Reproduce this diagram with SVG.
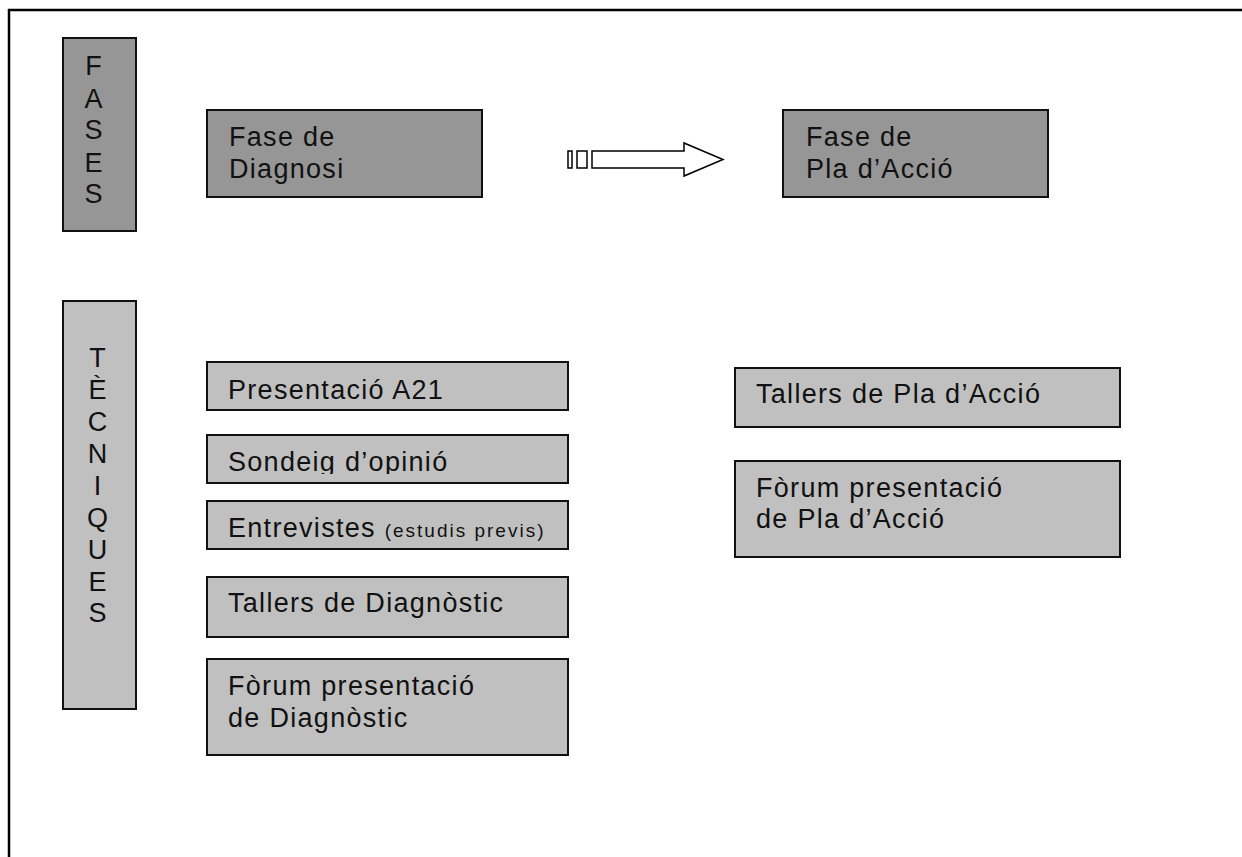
<svg xmlns="http://www.w3.org/2000/svg" width="1242" height="857" viewBox="0 0 1242 857">
<style>
.dark{fill:#969696;stroke:#111;stroke-width:2}
.light{fill:#c0c0c0;stroke:#111;stroke-width:2}
.t{font-family:"Liberation Sans",Arial,sans-serif;font-size:27px;fill:#111;letter-spacing:1.3px}
.v{font-family:"Liberation Sans",Arial,sans-serif;font-size:27px;fill:#111;text-anchor:middle}
.s{font-size:19px;letter-spacing:2px}
</style>
<defs>
<clipPath id="clipSond"><rect x="200" y="430" width="380" height="44"/></clipPath>
<clipPath id="clipEntr"><rect x="200" y="495" width="380" height="46"/></clipPath>
</defs>
<rect width="1242" height="857" fill="#fff"/>
<g id="frame">
<line x1="8" y1="10" x2="1242" y2="10" stroke="#000" stroke-width="2.5"/>
<line x1="9" y1="9" x2="9" y2="857" stroke="#000" stroke-width="2.5"/>
</g>
<g id="fases">
<rect class="dark" x="63" y="38" width="73" height="193"/>
<text class="v" x="93.5" y="75">F</text>
<text class="v" x="93.5" y="108">A</text>
<text class="v" x="93.5" y="139">S</text>
<text class="v" x="93.5" y="172">E</text>
<text class="v" x="93.5" y="203">S</text>
</g>
<g id="fase-diagnosi">
<rect class="dark" x="207" y="110" width="275" height="87"/>
<text class="t" x="229" y="146">Fase de</text>
<text class="t" x="229" y="178">Diagnosi</text>
</g>
<g id="fase-pla">
<rect class="dark" x="783" y="110" width="265" height="87"/>
<text class="t" x="806" y="146">Fase de</text>
<text class="t" x="806" y="178">Pla d’Acció</text>
</g>
<g id="connectors">
<rect x="568" y="151" width="4" height="17" fill="#fff" stroke="#000" stroke-width="1.5"/>
<rect x="577" y="151" width="10" height="17" fill="#fff" stroke="#000" stroke-width="1.5"/>
<path d="M592,151 L684,151 L684,143 L723,159.5 L684,176 L684,168 L592,168 Z" fill="#fff" stroke="#000" stroke-width="1.5"/>
</g>
<g id="tecniques">
<rect class="light" x="63" y="301" width="73" height="408"/>
<text class="v" x="97.5" y="367">T</text>
<text class="v" x="97.5" y="399">È</text>
<text class="v" x="97.5" y="431">C</text>
<text class="v" x="97.5" y="463">N</text>
<text class="v" x="97.5" y="495">I</text>
<text class="v" x="97.5" y="527">Q</text>
<text class="v" x="97.5" y="559">U</text>
<text class="v" x="97.5" y="591">E</text>
<text class="v" x="97.5" y="622">S</text>
</g>
<g id="presentacio">
<rect class="light" x="207" y="362" width="361" height="48"/>
<text class="t" x="228" y="399">Presentació A21</text>
</g>
<g id="sondeig">
<rect class="light" x="207" y="435" width="361" height="48"/>
<text class="t" x="228" y="471" clip-path="url(#clipSond)">Sondeig d’opinió</text>
</g>
<g id="entrevistes">
<rect class="light" x="207" y="501" width="361" height="48"/>
<text class="t" x="228" y="537" clip-path="url(#clipEntr)">Entrevistes <tspan class="s">(estudis previs)</tspan></text>
</g>
<g id="tallers-diagnostic">
<rect class="light" x="207" y="577" width="361" height="60"/>
<text class="t" x="228" y="612">Tallers de Diagnòstic</text>
</g>
<g id="forum-diagnostic">
<rect class="light" x="207" y="659" width="361" height="96"/>
<text class="t" x="228" y="695">Fòrum presentació</text>
<text class="t" x="228" y="727">de Diagnòstic</text>
</g>
<g id="tallers-pla">
<rect class="light" x="735" y="368" width="385" height="59"/>
<text class="t" x="756" y="403">Tallers de Pla d’Acció</text>
</g>
<g id="forum-pla">
<rect class="light" x="735" y="461" width="385" height="96"/>
<text class="t" x="756" y="497">Fòrum presentació</text>
<text class="t" x="756" y="528">de Pla d’Acció</text>
</g>
</svg>
